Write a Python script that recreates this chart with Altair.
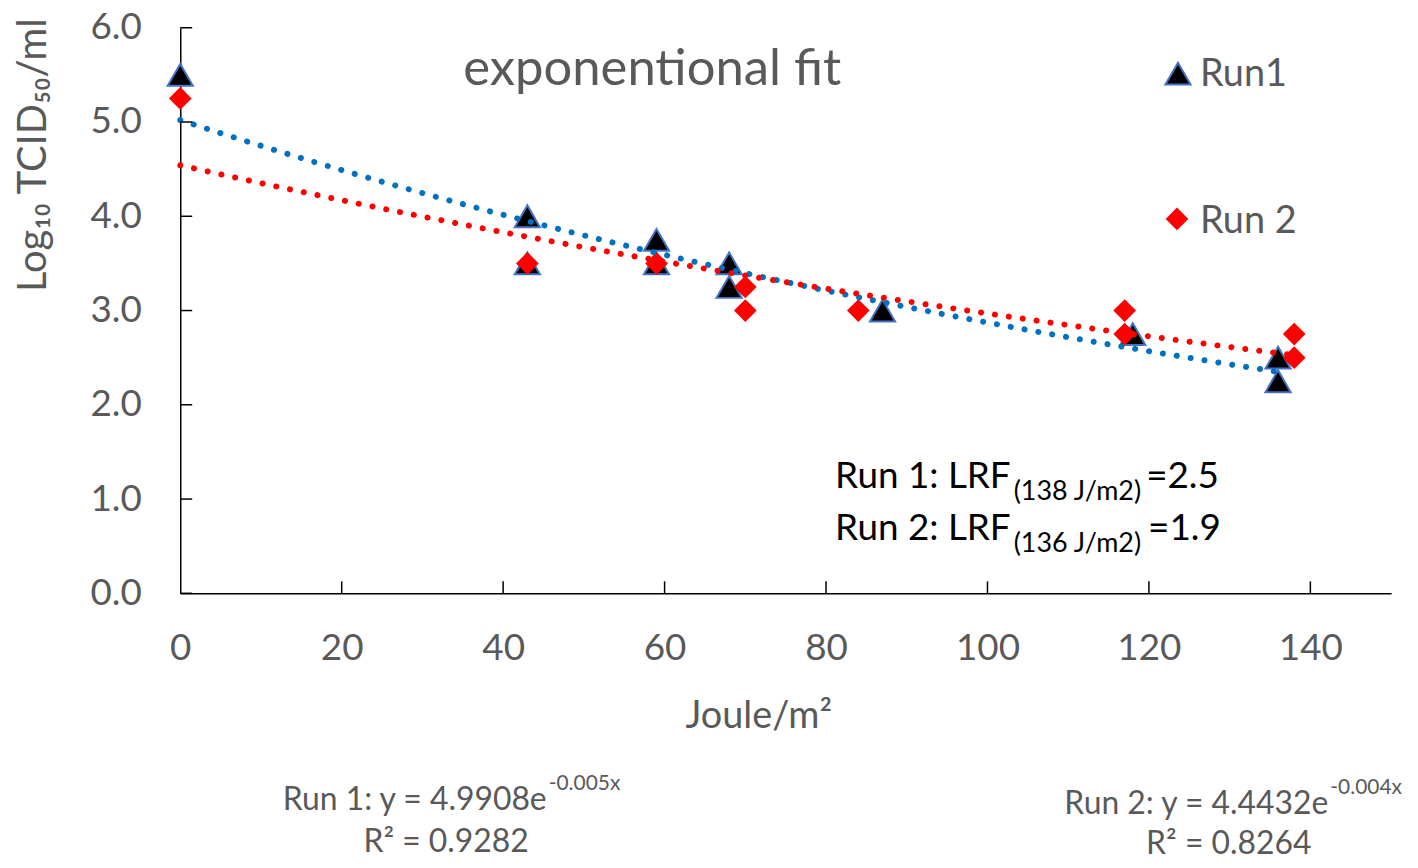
"""Exponential fit of UV inactivation, Run 1 vs Run 2, drawn with Altair."""

import pandas as pd
import altair as alt

# Data
run1_joule = [0, 43, 43, 59, 59, 68, 68, 87, 118, 136, 136]
run1_log = [5.5, 4.0, 3.5, 3.75, 3.5, 3.5, 3.25, 3.0, 2.75, 2.5, 2.25]
run2_joule = [0, 43, 59, 70, 70, 84, 117, 117, 138, 138]
run2_log = [5.25, 3.5, 3.5, 3.25, 3.0, 3.0, 3.0, 2.75, 2.75, 2.5]

run_names = ['Run1', 'Run 2']
x_ticks = [0, 20, 40, 60, 80, 100, 120, 140]
y_ticks = [0, 1, 2, 3, 4, 5, 6]

FONT = 'Lato'
GREY = '#595959'

run1 = pd.DataFrame({'joule': run1_joule, 'log_tcid': run1_log, 'run': run_names[0]})
run2 = pd.DataFrame({'joule': run2_joule, 'log_tcid': run2_log, 'run': run_names[1]})
points = pd.concat([run1, run2], ignore_index=True)

x_scale = alt.Scale(domain=[0, 150], nice=False, zero=False)
y_scale = alt.Scale(domain=[0, 6], nice=False)

x_axis = alt.Axis(values=x_ticks, format='d', title=None, grid=False, ticks=False,
                  labelFont=FONT, labelFontSize=37, labelColor=GREY, labelPadding=37,
                  labelFlush=False, labelOverlap=False, domainColor='black', domainWidth=1.5)
y_axis = alt.Axis(values=y_ticks, format='.1f', title=None, grid=False, ticks=False,
                  labelFont=FONT, labelFontSize=37, labelColor=GREY, labelPadding=39,
                  labelOverlap=False, domainColor='black', domainWidth=1.5)


def label(text, x, y, size, color=GREY, align='left', angle=0):
    # free text placed in pixels relative to the plot area
    return alt.Chart(pd.DataFrame({'label': [text]})).mark_text(
        font=FONT, fontSize=size, color=color, align=align, baseline='alphabetic', angle=angle
    ).encode(x=alt.value(x), y=alt.value(y), text='label:N')


triangles = alt.Chart(run1).mark_point(
    shape='triangle-up', filled=True, fill='black', stroke='#4472C4', strokeWidth=2,
    size=640, opacity=1
).encode(
    x=alt.X('joule:Q', scale=x_scale, axis=x_axis),
    y=alt.Y('log_tcid:Q', scale=y_scale, axis=y_axis),
)

diamonds = alt.Chart(run2).mark_point(
    shape='diamond', filled=True, fill='#FF0000', size=520, opacity=1
).encode(x='joule:Q', y='log_tcid:Q')

# Excel-style exponential trend: least squares on ln(y), then sampled along x.
# With params=True the group values come back in the `keys` array.
trend = alt.Chart(points).transform_calculate(
    ln_y='log(datum.log_tcid)'
).transform_joinaggregate(
    x_max='max(joule)', groupby=['run']
).transform_regression(
    'joule', 'ln_y', method='linear', groupby=['run', 'x_max'], params=True
).transform_calculate(
    run='datum.keys[0]', xs='sequence(0, datum.keys[1] + 0.5, 1)'
).transform_flatten(['xs']).transform_calculate(
    joule='datum.xs', log_tcid='exp(datum.coef[0] + datum.coef[1] * datum.xs)'
).mark_line(strokeDash=[0.1, 14], strokeCap='round', strokeWidth=6).encode(
    x='joule:Q',
    y='log_tcid:Q',
    color=alt.Color('run:N', scale=alt.Scale(domain=run_names, range=['#0070C0', '#FF0000']),
                    legend=None),
)

# inward tick marks
y_tick_marks = alt.Chart(pd.DataFrame({'log_tcid': y_ticks})).mark_rule(
    color='black', strokeWidth=1.5
).encode(y='log_tcid:Q', x=alt.value(0), x2=alt.value(12))
x_tick_marks = alt.Chart(pd.DataFrame({'joule': x_ticks[1:]})).mark_rule(
    color='black', strokeWidth=1.5
).encode(x='joule:Q', y=alt.value(568), y2=alt.value(556))

# legend drawn by hand
legend_tri = alt.Chart(pd.DataFrame({'run': [run_names[0]]})).mark_point(
    shape='triangle-up', filled=True, fill='black', stroke='#4472C4', strokeWidth=2,
    size=640, opacity=1
).encode(x=alt.value(1002), y=alt.value(46))
legend_dia = alt.Chart(pd.DataFrame({'run': [run_names[1]]})).mark_point(
    shape='diamond', filled=True, fill='#FF0000', size=520, opacity=1
).encode(x=alt.value(1001), y=alt.value(192))

texts = [
    label('exponentional fit', 474, 58, 51, align='center'),
    label('Run1', 1024, 59, 38),
    label('Run 2', 1024, 206, 38),
    label('Run 1: LRF', 834, 462, 37, color='black', align='right'),
    label('(138 J/m2)', 837, 474, 27, color='black'),
    label('=2.5', 970, 462, 37, color='black'),
    label('Run 2: LRF', 834, 514, 37, color='black', align='right'),
    label('(136 J/m2)', 837, 526, 27, color='black'),
    label('=1.9', 972, 514, 37, color='black'),
    label('Joule/m²', 581, 703, 38, align='center'),
    label('Log₁₀ TCID₅₀/ml', -135, 128, 40, align='center', angle=270),
    label('Run 1: y = 4.9908e', 368, 786, 32, align='right'),
    label('-0.005x', 370, 766, 21),
    label('R² = 0.9282', 267, 828, 32, align='center'),
    label('Run 2: y = 4.4432e', 1153, 790, 32, align='right'),
    label('-0.004x', 1155, 770, 21),
    label('R² = 0.8264', 1053, 830, 32, align='center'),
]

chart = alt.layer(
    triangles, diamonds, trend, y_tick_marks, x_tick_marks, legend_tri, legend_dia, *texts
).properties(
    width=1216,
    height=568,
    autosize=alt.AutoSizeParams(type='none'),
    padding={'left': 173, 'top': 18, 'right': 19, 'bottom': 268},
).configure_view(stroke=None)

chart.save('out.html', embed_options={'renderer': 'svg', 'actions': False})
